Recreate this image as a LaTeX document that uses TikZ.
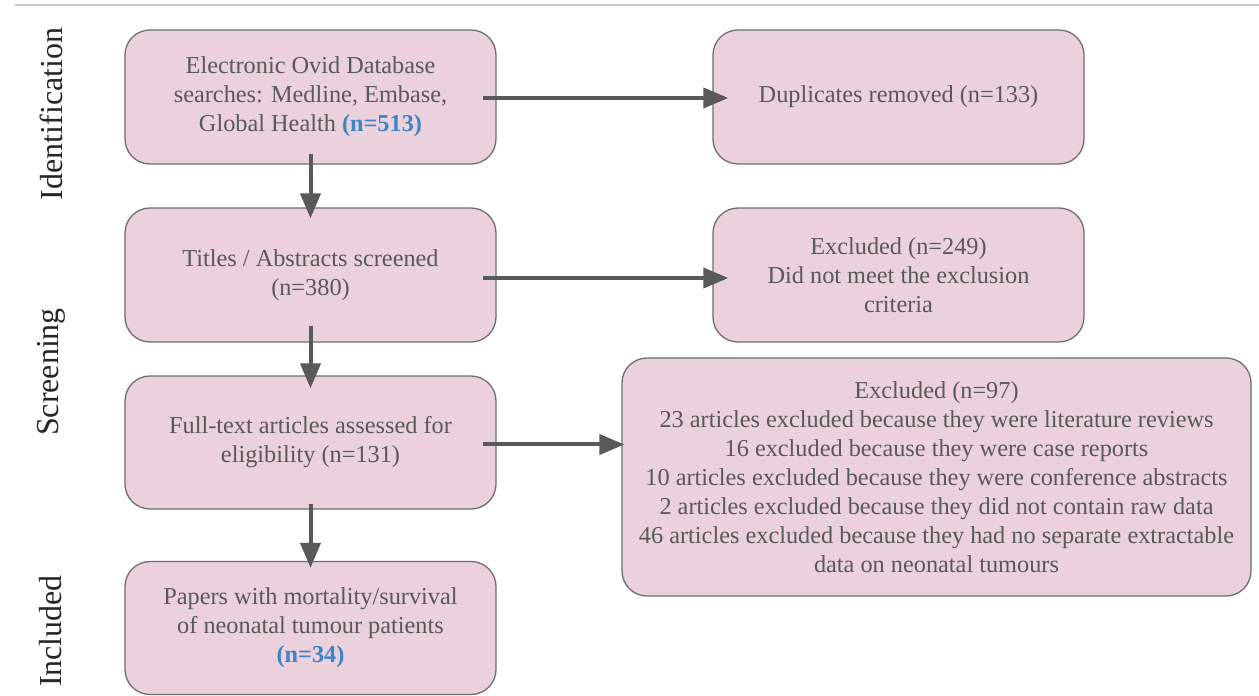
\documentclass[tikz,border=0pt]{standalone}
\usepackage{fontspec}
\setmainfont{Liberation Serif}
\usetikzlibrary{arrows.meta}
\definecolor{boxfill}{HTML}{EAD1DC}
\definecolor{boxline}{HTML}{6E6E6E}
\definecolor{txt}{HTML}{595959}
\definecolor{nblue}{HTML}{3D85C6}
\definecolor{arrcol}{HTML}{595959}
\definecolor{topline}{HTML}{C8C8C8}
\tikzset{
  flowbox/.style={draw=boxline, line width=1.3pt, fill=boxfill, rounded corners=25pt,
    text=txt, align=center, inner sep=0pt, font=\fontsize{24.3}{29}\selectfont},
  arr/.style={draw=arrcol, line width=4pt, -{Triangle[length=25pt,width=20pt]}},
  sidelabel/.style={rotate=90, font=\fontsize{32}{36}\selectfont, text=black!85, anchor=center},
}
\newcommand{\nb}[1]{\textcolor{nblue}{\textbf{#1}}}
\begin{document}
\begin{tikzpicture}[x=1pt,y=1pt]
\useasboundingbox[fill=white] (0,0) rectangle (1259,696);
\draw[topline, line width=2.5pt] (15,691) -- (1259,691);

\node[flowbox, minimum width=371pt, minimum height=134pt] (b1) at (310.5,599)
  {Electronic Ovid Database\\searches: Medline, Embase,\\Global Health \nb{(n=513)}};
\node[flowbox, minimum width=371pt, minimum height=134pt] (b2) at (898.5,599)
  {Duplicates removed (n=133)};
\node[flowbox, minimum width=371pt, minimum height=134pt] (b3) at (310.5,421)
  {Titles / Abstracts screened\\(n=380)};
\node[flowbox, minimum width=371pt, minimum height=134pt] (b4) at (898.5,421)
  {Excluded (n=249)\\Did not meet the exclusion\\criteria};
\node[flowbox, minimum width=371pt, minimum height=133pt] (b5) at (310.5,253.5)
  {Full-text articles assessed for\\eligibility (n=131)};
\node[flowbox, minimum width=629pt, minimum height=238pt] (b6) at (936.5,219)
  {Excluded (n=97)\\23 articles excluded because they were literature reviews\\16 excluded because they were case reports\\10 articles excluded because they were conference abstracts\\2 articles excluded because they did not contain raw data\\46 articles excluded because they had no separate extractable\\data on neonatal tumours};
\node[flowbox, minimum width=371pt, minimum height=133pt] (b7) at (310.5,68)
  {Papers with mortality/survival\\of neonatal tumour patients\\\nb{(n=34)}};

\draw[arr] ([xshift=-14pt,yshift=-1pt]b1.east) -- ([xshift=16pt,yshift=-1pt]b2.west);
\draw[arr] ([xshift=-14pt,yshift=-3pt]b3.east) -- ([xshift=16pt,yshift=-3pt]b4.west);
\coordinate (a5) at ([xshift=-14pt,yshift=-2pt]b5.east);
\draw[arr] (a5) -- ([xshift=3pt]a5 -| b6.west);
\draw[arr] ([yshift=11pt]b1.south) -- ([yshift=-11pt]b3.north);
\draw[arr] ([yshift=17pt]b3.south) -- ([yshift=-13pt]b5.north);
\draw[arr] ([yshift=6pt]b5.south) -- ([yshift=-7pt]b7.north);

\node[sidelabel] (l1) at (51,696-114) {Identification};
\node[sidelabel] (l2) at (51,696-372) {Screening};
\node[sidelabel] (l3) at (51,696-631) {Included};
\end{tikzpicture}
\end{document}
